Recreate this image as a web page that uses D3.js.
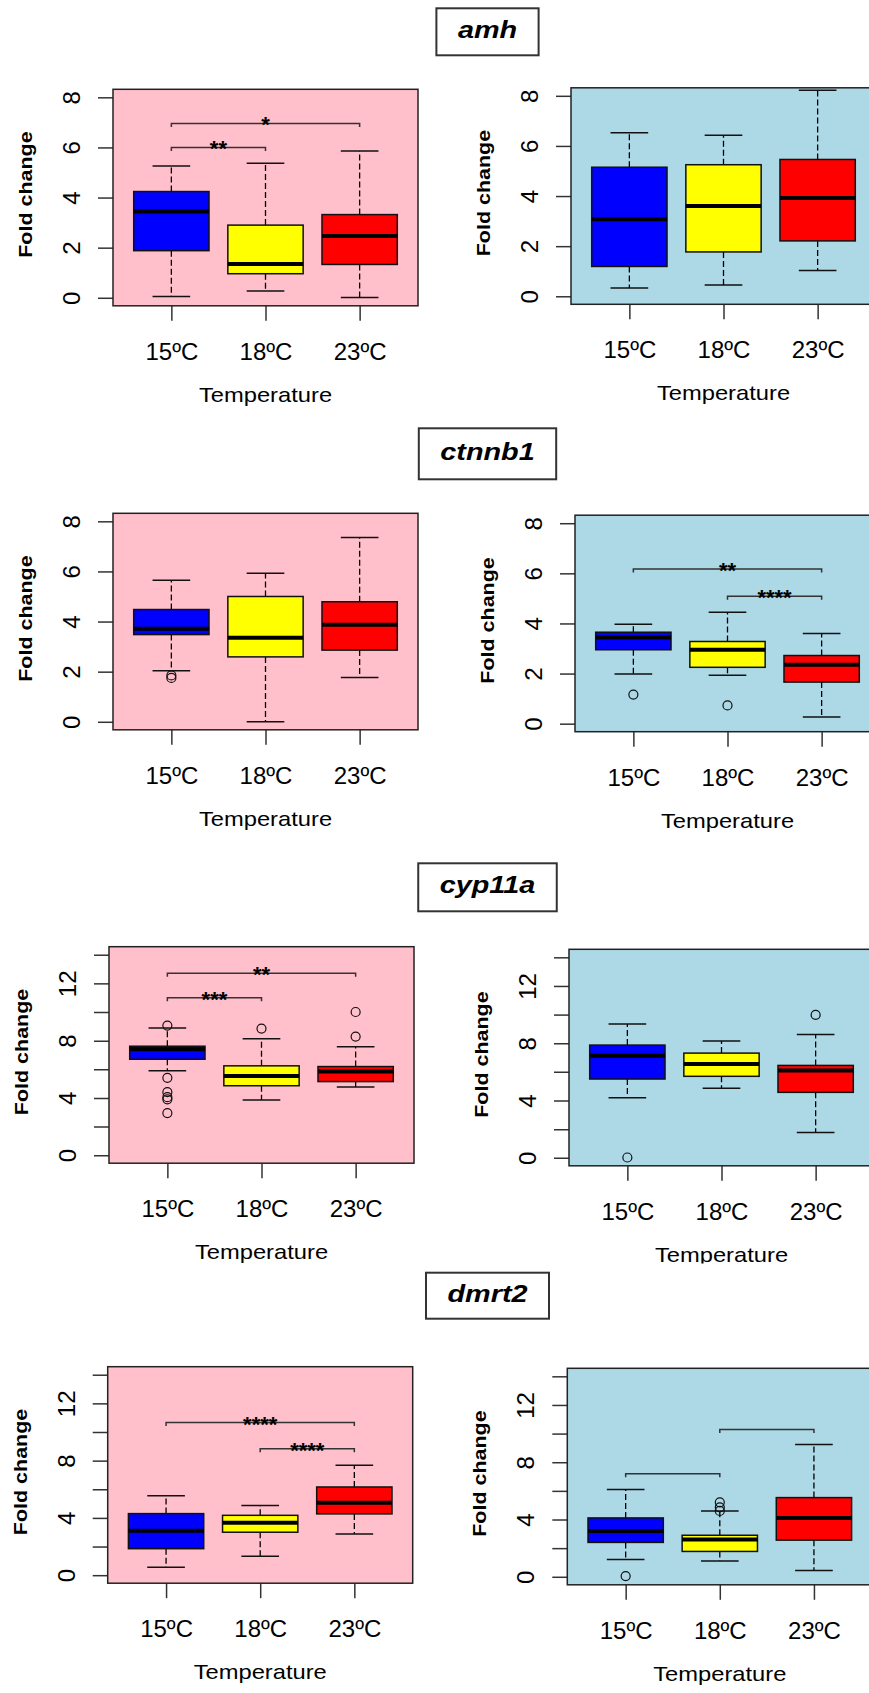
<!DOCTYPE html>
<html>
<head>
<meta charset="utf-8">
<script src="https://cdn.jsdelivr.net/npm/d3@7"></script>
<style>
  body { margin: 0; background: #fff; }
  svg { display: block; }
  text { font-family: "Liberation Sans", Arial, sans-serif; }
</style>
</head>
<body>
<svg id="fig"></svg>
<script>
var groups = ["15ºC", "18ºC", "23ºC"];
var genes = ["amh", "ctnnb1", "cyp11a", "dmrt2"];

// box stats per group: [lower whisker, Q1, median, Q3, upper whisker]
var amhLeft = [[0.05, 1.88, 3.44, 4.24, 5.26], [0.27, 0.96, 1.35, 2.90, 5.37], [0.01, 1.33, 2.47, 3.32, 5.86]];
var amhLeftOut = [[], [], []];
var amhLeftSig = [[1, 3, 6.96, "*"], [1, 2, 6.0, "**"]];
var amhRight = [[0.33, 1.19, 3.07, 5.15, 6.53], [0.45, 1.77, 3.60, 5.25, 6.43], [1.03, 2.21, 3.92, 5.46, 8.22]];
var amhRightOut = [[], [], []];
var amhRightSig = [];

var ctnnb1Left = [[2.04, 3.48, 3.71, 4.48, 5.65], [0, 2.59, 3.35, 5.0, 5.93], [1.77, 2.86, 3.87, 4.79, 7.35]];
var ctnnb1LeftOut = [[1.75, 1.85], [], []];
var ctnnb1LeftSig = [];
var ctnnb1Right = [[1.98, 2.95, 3.44, 3.65, 3.97], [1.93, 2.25, 2.95, 3.28, 4.45], [0.27, 1.66, 2.35, 2.72, 3.60]];
var ctnnb1RightOut = [[1.16], [0.73], []];
var ctnnb1RightSig = [[1, 3, 6.17, "**"], [2, 3, 5.09, "****"]];

var cyp11aLeft = [[5.9, 6.7, 7.4, 7.61, 8.88], [3.86, 4.85, 5.53, 6.24, 8.14], [4.77, 5.14, 5.84, 6.19, 7.58]];
var cyp11aLeftOut = [[9.05, 5.4, 4.4, 4.05, 3.9, 2.94], [8.84], [10.0, 8.28]];
var cyp11aLeftSig = [[1, 3, 12.7, "**"], [1, 2, 11.0, "***"]];
var cyp11aRight = [[4.2, 5.5, 7.13, 7.87, 9.35], [4.85, 5.69, 6.55, 7.31, 8.15], [1.76, 4.57, 6.1, 6.45, 8.61]];
var cyp11aRightOut = [[0.02], [], [9.98]];
var cyp11aRightSig = [];

var dmrt2Left = [[0.55, 1.85, 3.1, 4.3, 5.55], [1.32, 3.0, 3.67, 4.18, 4.87], [2.88, 4.28, 5.05, 6.16, 7.67]];
var dmrt2LeftOut = [[], [], []];
var dmrt2LeftSig = [[1, 3, 10.66, "****"], [2, 3, 8.83, "****"]];
var dmrt2Right = [[1.21, 2.4, 3.2, 4.11, 6.09], [1.11, 1.77, 2.6, 2.9, 4.6], [0.44, 2.56, 4.11, 5.53, 9.24]];
var dmrt2RightOut = [[0.05], [5.2, 4.85, 4.6], []];
var dmrt2RightSig = [[1, 2, 7.2, ""], [2, 3, 10.29, ""]];

var ticks8 = [0, 2, 4, 6, 8];
var ticks14 = [0, 2, 4, 6, 8, 10, 12, 14];
var labels14 = [0, 4, 8, 12];

var W = 869, H = 1693, PW = 305, PH = 216.5;
var fills = ["#0000ff", "#ffff00", "#ff0000"];

var rows = [
  { title: [8.3, 47], ymax: 8, ticks: ticks8, labs: ticks8,
    left: { x: 113, y: 89.3, s: amhLeft, o: amhLeftOut, sig: amhLeftSig },
    right: { x: 571, y: 87.8, s: amhRight, o: amhRightOut, sig: amhRightSig } },
  { title: [428.3, 51], ymax: 8, ticks: ticks8, labs: ticks8,
    left: { x: 113, y: 513.3, s: ctnnb1Left, o: ctnnb1LeftOut, sig: ctnnb1LeftSig },
    right: { x: 575, y: 515.2, s: ctnnb1Right, o: ctnnb1RightOut, sig: ctnnb1RightSig } },
  { title: [863.3, 48], ymax: 14, ticks: ticks14, labs: labels14, clip: 1263.5,
    left: { x: 109, y: 946.7, s: cyp11aLeft, o: cyp11aLeftOut, sig: cyp11aLeftSig },
    right: { x: 569, y: 949.3, s: cyp11aRight, o: cyp11aRightOut, sig: cyp11aRightSig } },
  { title: [1272.7, 46], ymax: 14, ticks: ticks14, labs: labels14,
    left: { x: 107.7, y: 1366.7, s: dmrt2Left, o: dmrt2LeftOut, sig: dmrt2LeftSig },
    right: { x: 567.3, y: 1368.3, s: dmrt2Right, o: dmrt2RightOut, sig: dmrt2RightSig } }
];

var svg = d3.select("#fig").attr("width", W).attr("height", H);

function panel(g, p, row, bg) {
  var x = d3.scaleLinear().domain([0.38, 3.62]).range([0, PW]);
  var y = d3.scaleLinear().domain([-0.04 * row.ymax, 1.04 * row.ymax]).range([PH, 0]);
  var u = x(1) - x(0);
  var gp = g.append("g").attr("transform", "translate(" + p.x + "," + p.y + ")");

  gp.append("rect").attr("width", PW).attr("height", PH).attr("fill", bg);

  // y axis
  var yg = gp.append("g")
    .call(d3.axisLeft(y).tickValues(row.ticks).tickSize(15)
      .tickFormat(function(d) { return row.labs.indexOf(d) >= 0 ? d : ""; }))
    .attr("font-size", 24).attr("font-family", null);
  yg.select(".domain").remove();
  yg.selectAll(".tick line").attr("stroke", "#333").attr("stroke-width", 1.5);
  yg.selectAll(".tick text").attr("x", null).attr("dy", null).attr("fill", "#000")
    .attr("text-anchor", "middle").attr("transform", "translate(-33,0) rotate(-90)");

  // x axis
  var xg = gp.append("g").attr("transform", "translate(0," + PH + ")")
    .call(d3.axisBottom(x).tickValues([1, 2, 3]).tickSize(15)
      .tickFormat(function(d) { return groups[d - 1]; }))
    .attr("font-size", 24).attr("font-family", null);
  xg.select(".domain").remove();
  xg.selectAll(".tick line").attr("stroke", "#333").attr("stroke-width", 1.5);
  xg.selectAll(".tick text").attr("y", 54).attr("dy", null).attr("fill", "#000");

  // boxes
  p.s.forEach(function(s, i) {
    var cx = x(i + 1), b = gp.append("g");
    b.append("line").attr("x1", cx).attr("x2", cx).attr("y1", y(s[3])).attr("y2", y(s[4]))
      .attr("stroke", "#000").attr("stroke-width", 1.3).attr("stroke-dasharray", "6,3");
    b.append("line").attr("x1", cx).attr("x2", cx).attr("y1", y(s[1])).attr("y2", y(s[0]))
      .attr("stroke", "#000").attr("stroke-width", 1.3).attr("stroke-dasharray", "6,3");
    [s[0], s[4]].forEach(function(v) {
      b.append("line").attr("x1", cx - 0.2 * u).attr("x2", cx + 0.2 * u)
        .attr("y1", y(v)).attr("y2", y(v)).attr("stroke", "#111").attr("stroke-width", 1.5);
    });
    b.append("rect").attr("x", cx - 0.4 * u).attr("width", 0.8 * u)
      .attr("y", y(s[3])).attr("height", y(s[1]) - y(s[3]))
      .attr("fill", fills[i]).attr("stroke", "#111").attr("stroke-width", 1.5);
    b.append("line").attr("x1", cx - 0.4 * u).attr("x2", cx + 0.4 * u)
      .attr("y1", y(s[2])).attr("y2", y(s[2])).attr("stroke", "#000").attr("stroke-width", 4);
    b.selectAll("circle").data(p.o[i]).enter().append("circle")
      .attr("cx", cx).attr("cy", function(d) { return y(d); }).attr("r", 4.5)
      .attr("fill", "none").attr("stroke", "#111").attr("stroke-width", 1.2);
  });

  // significance brackets
  p.sig.forEach(function(k) {
    var x1 = x(k[0]), x2 = x(k[1]), yy = y(k[2]);
    gp.append("path").attr("d", "M" + x1 + "," + (yy + 3.5) + "V" + yy + "H" + x2 + "V" + (yy + 3.5))
      .attr("fill", "none").attr("stroke", "#333").attr("stroke-width", 1.5);
    gp.append("text").attr("x", (x1 + x2) / 2).attr("y", yy + 9)
      .attr("text-anchor", "middle").style("font-size", "22px").style("font-weight", "bold")
      .text(k[3]);
  });

  gp.append("rect").attr("width", PW).attr("height", PH)
    .attr("fill", "none").attr("stroke", "#222").attr("stroke-width", 1.5);

  gp.append("text")
    .attr("transform", "translate(-81," + (PH / 2 - 3) + ") rotate(-90) scale(1.13,1)")
    .attr("text-anchor", "middle").style("font-size", "19px").style("font-weight", "bold")
    .text("Fold change");
  gp.append("text")
    .attr("transform", "translate(" + (PW / 2) + "," + (PH + 96) + ") scale(1.13,1)")
    .attr("text-anchor", "middle").style("font-size", "21px")
    .text("Temperature");
}

rows.forEach(function(row, r) {
  var g = svg.append("g");
  if (row.clip) {
    svg.append("clipPath").attr("id", "clip" + r).append("rect")
      .attr("width", W).attr("height", row.clip);
    g.attr("clip-path", "url(#clip" + r + ")");
  }
  var cx = 487.5, top = row.title[0], th = row.title[1];
  var box = g.append("rect");
  var t = g.append("text")
    .attr("transform", "translate(" + cx + "," + (top + th / 2 + 6) + ") scale(1.2,1)")
    .attr("text-anchor", "middle")
    .style("font-size", "24px").style("font-weight", "bold").style("font-style", "italic")
    .text(genes[r]);
  var tw = t.node().getComputedTextLength() * 1.2 + 43;
  box.attr("x", cx - tw / 2).attr("y", top).attr("width", tw).attr("height", th)
    .attr("fill", "#fff").attr("stroke", "#333").attr("stroke-width", 2);

  panel(g, row.left, row, "#ffc0cb");
  panel(g, row.right, row, "#add8e6");
});
</script>
</body>
</html>
